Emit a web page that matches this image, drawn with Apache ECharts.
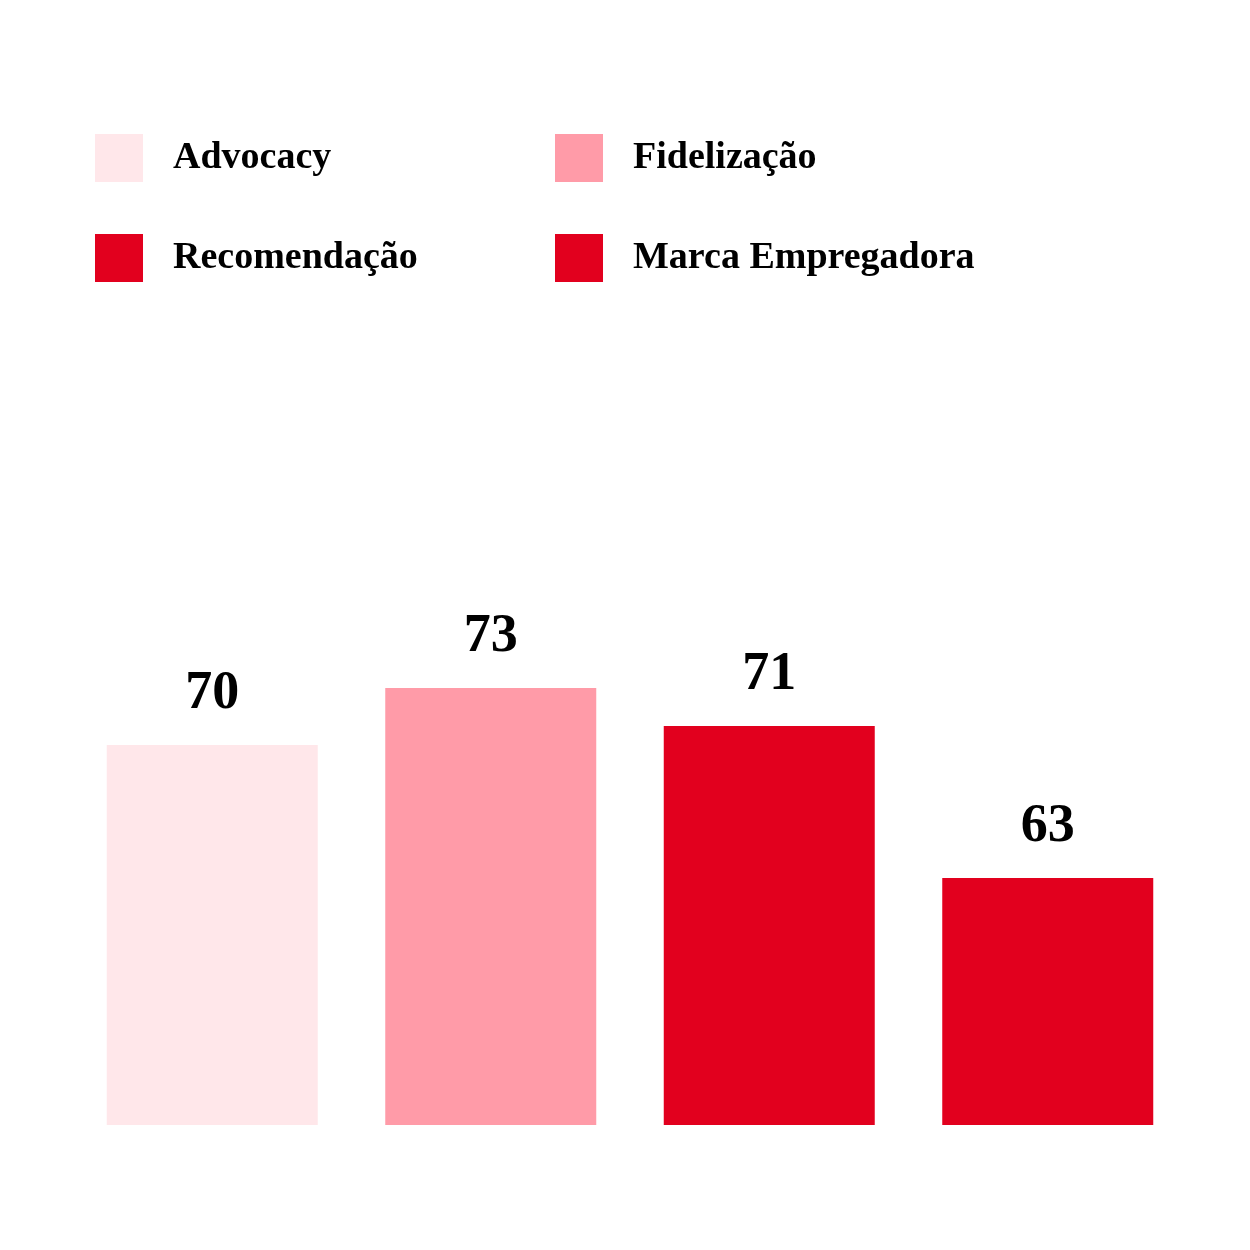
<!DOCTYPE html>
<html>
<head>
<meta charset="utf-8">
<script src="https://cdn.jsdelivr.net/npm/echarts@6/dist/echarts.min.js"></script>
<style>
  html, body { margin: 0; padding: 0; background: #fff; }
  #chart { width: 1250px; height: 1250px; }
</style>
</head>
<body>
<div id="chart"></div>
<script>
// dados do gráfico
const categories = ['Advocacy', 'Fidelização', 'Recomendação', 'Marca Empregadora'];
const values = [70, 73, 71, 63];
const colors = ['#FFE7EA', '#FF9BA8', '#E2001E', '#E2001E'];

const fontFamily = '"Liberation Serif", "DejaVu Serif", serif';

const myChart = echarts.init(document.getElementById('chart'));

const series = categories.map((name, i) => ({
  name,
  type: 'bar',
  stack: 'all',
  barWidth: 211,
  itemStyle: { color: colors[i] },
  label: {
    show: true,
    position: 'top',
    distance: 24,
    color: '#000',
    fontFamily,
    fontWeight: 'bold',
    fontSize: 54,
  },
  data: values.map((v, j) => (j === i ? v : '-')),
}));

const legendBase = {
  orient: 'vertical',
  top: 134,
  padding: 0,
  itemWidth: 48,
  itemHeight: 48,
  itemGap: 52,
  icon: 'rect',
  selectedMode: false,
  textStyle: {
    fontFamily,
    fontWeight: 'bold',
    fontSize: 38,
    color: '#000',
    padding: [6, 0, 0, 25],
  },
};

myChart.setOption({
  animation: false,
  backgroundColor: '#fff',
  legend: [
    Object.assign({}, legendBase, { left: 95, data: [categories[0], categories[2]] }),
    Object.assign({}, legendBase, { left: 555, data: [categories[1], categories[3]] }),
  ],
  grid: { left: 73, right: 63, top: 555, bottom: 125 },
  xAxis: {
    type: 'category',
    data: categories,
    axisLine: { show: false },
    axisTick: { show: false },
    axisLabel: { show: false },
  },
  yAxis: {
    type: 'value',
    min: 50,
    max: 80,
    show: false,
    splitLine: { show: false },
  },
  series,
});
</script>
</body>
</html>
